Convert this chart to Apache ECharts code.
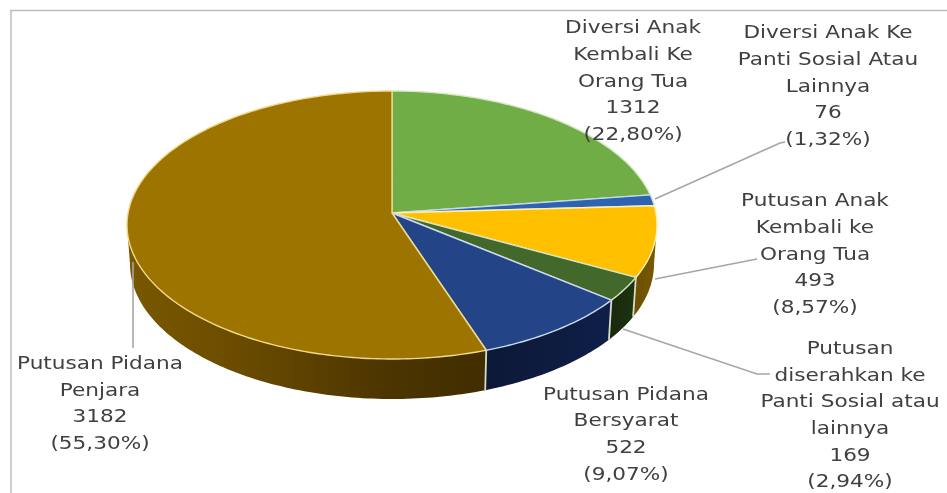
<!DOCTYPE html>
<html>
<head>
<meta charset="utf-8">
<style>html,body{margin:0;padding:0;background:#fff}#c{width:947px;height:493px}</style>
<script src="https://cdn.jsdelivr.net/npm/echarts@6/dist/echarts.min.js"></script>
</head>
<body>
<div id="c"></div>
<script>
// Slices, clockwise from twelve o'clock
const categories = [
  'Diversi Anak\nKembali Ke\nOrang Tua',
  'Diversi Anak Ke\nPanti Sosial Atau\nLainnya',
  'Putusan Anak\nKembali ke\nOrang Tua',
  'Putusan\ndiserahkan ke\nPanti Sosial atau\nlainnya',
  'Putusan Pidana\nBersyarat',
  'Putusan Pidana\nPenjara'
];
const values = [1312, 76, 493, 169, 522, 3182];

const topColors = ['#70ad47', '#2f63b2', '#ffc000', '#43682b', '#234487', '#9e7400'];
const edgeColors = ['#d5e8c4', '#c4d8f0', '#fff0b0', '#d5e4c4', '#ccd9ee', '#f0d98a'];
const sideStops = [
  ['#3d6026', '#3d6026'],
  ['#1f4178', '#1f4178'],
  ['#6a4f00', '#7a5a00'],
  ['#16280c', '#1e3410'],
  ['#0c1836', '#0f1f49'],
  ['#7d5a00', '#3f2c00']
];

// Label block centres and leader polylines, in page pixels
const labelCentres = [[633, 82], [828, 87], [815, 255], [850, 416], [626, 435], [100, 404.5]];
const leaders = [
  null,
  [[655, 199], [780, 143], [785, 142]],
  [[655, 279], [757, 259]],
  [[623, 329], [757, 374], [770, 374]],
  null,
  [[133, 262], [133, 348]]
];

// Tilted disc: upper rim, lower rim, and the pivot of the slices
const upper = { cx: 392, cy: 225, rx: 265, ry: 134 };
const lower = { cx: 392, cy: 264, rx: 262, ry: 135 };
const pivotShift = 12 / 134;

const total = values.reduce((a, b) => a + b, 0);
const starts = [];
values.reduce((acc, v, i) => (starts[i] = acc, acc + v), 0);

// Projective map of the unit disc that carries its centre to the pivot,
// so equal angles foreshorten the way a perspective pie does.
function project(frac, e) {
  const a = frac * Math.PI * 2;
  const s = Math.sin(a), c = Math.cos(a);
  const d = 1 + pivotShift * c;
  const x = s * Math.sqrt(1 - pivotShift * pivotShift) / d;
  const y = (c + pivotShift) / d;
  return [e.cx + e.rx * x, e.cy - e.ry * y];
}
function rimPoints(f0, f1, e) {
  const pts = [];
  const n = Math.max(4, Math.ceil((f1 - f0) * 360));
  for (let k = 0; k <= n; k++) pts.push(project(f0 + (f1 - f0) * k / n, e));
  return pts;
}
// Fraction of the circle at which the rim reaches its rightmost and leftmost points
const rightTurn = (Math.acos(-pivotShift)) / (Math.PI * 2);
const leftTurn = 1 - rightTurn;

function renderSide(params) {
  const i = params.dataIndex;
  const f0 = Math.max(starts[i] / total, rightTurn);
  const f1 = Math.min((starts[i] + values[i]) / total, leftTurn);
  if (f1 <= f0) return { type: 'group', children: [] };
  const top = rimPoints(f0, f1, upper);
  const bot = rimPoints(f0, f1, lower);
  const xs = top.concat(bot).map(p => p[0]);
  const x0 = Math.min.apply(null, xs), x1 = Math.max.apply(null, xs);
  const stops = sideStops[i];
  const fill = i === 5
    ? new echarts.graphic.LinearGradient(x0, 0, x1, 0, [
        { offset: 0, color: '#7a5800' }, { offset: 0.3, color: '#6b4c00' },
        { offset: 0.72, color: '#4c3500' }, { offset: 1, color: '#412d00' }], true)
    : new echarts.graphic.LinearGradient(x0, 0, x1, 0, [
        { offset: 0, color: stops[0] }, { offset: 1, color: stops[1] }], true);
  const children = [{
    type: 'polygon',
    shape: { points: top.concat(bot.reverse()) },
    style: { fill: fill }
  }];
  // Pale seam on the leading edge of the slice's wall
  if (f0 === starts[i] / total) {
    children.push({
      type: 'line',
      shape: {
        x1: project(f0, upper)[0], y1: project(f0, upper)[1],
        x2: project(f0, lower)[0], y2: project(f0, lower)[1]
      },
      style: { stroke: '#d5dcc4', lineWidth: 1.8 }
    });
  }
  return { type: 'group', children: children };
}

function renderTop(params) {
  const i = params.dataIndex;
  const f0 = starts[i] / total;
  const f1 = (starts[i] + values[i]) / total;
  const pivot = [upper.cx, upper.cy - upper.ry * pivotShift];
  return {
    type: 'polygon',
    shape: { points: [pivot].concat(rimPoints(f0, f1, upper)) },
    style: { fill: topColors[i], stroke: edgeColors[i], lineWidth: 1.4, lineJoin: 'round' }
  };
}

function renderLeader(params) {
  const pts = leaders[params.dataIndex];
  if (!pts) return { type: 'group', children: [] };
  return {
    type: 'polyline',
    shape: { points: pts },
    style: { fill: 'none', stroke: '#a6a6a6', lineWidth: 1.6 }
  };
}

function renderLabel(params) {
  const i = params.dataIndex;
  const pct = (values[i] / total * 100).toFixed(2).replace('.', ',');
  const c = labelCentres[i];
  return {
    type: 'text',
    x: c[0], y: c[1], scaleX: 1.2,
    style: {
      text: categories[i] + '\n' + values[i] + '\n(' + pct + '%)',
      x: 0, y: 0, align: 'center', verticalAlign: 'middle',
      font: '18px "DejaVu Sans"', lineHeight: 26.6, fill: '#404040'
    }
  };
}

const layer = (fn, z) => ({
  type: 'custom', coordinateSystem: 'none', renderItem: fn, z: z,
  data: values, animation: false, silent: true, clip: false
});

const chart = echarts.init(document.getElementById('c'), null, { renderer: 'canvas' });
chart.setOption({
  animation: false,
  backgroundColor: '#ffffff',
  graphic: [
    { type: 'line', shape: { x1: 10, y1: 10.5, x2: 947, y2: 10.5 }, style: { stroke: '#bdbdbd', lineWidth: 1.5 }, silent: true },
    { type: 'line', shape: { x1: 11, y1: 10, x2: 11, y2: 493 }, style: { stroke: '#bdbdbd', lineWidth: 1.5 }, silent: true }
  ],
  series: [
    layer(renderSide, 2),
    layer(renderTop, 3),
    layer(renderLeader, 4),
    layer(renderLabel, 5)
  ]
});
</script>
</body>
</html>
